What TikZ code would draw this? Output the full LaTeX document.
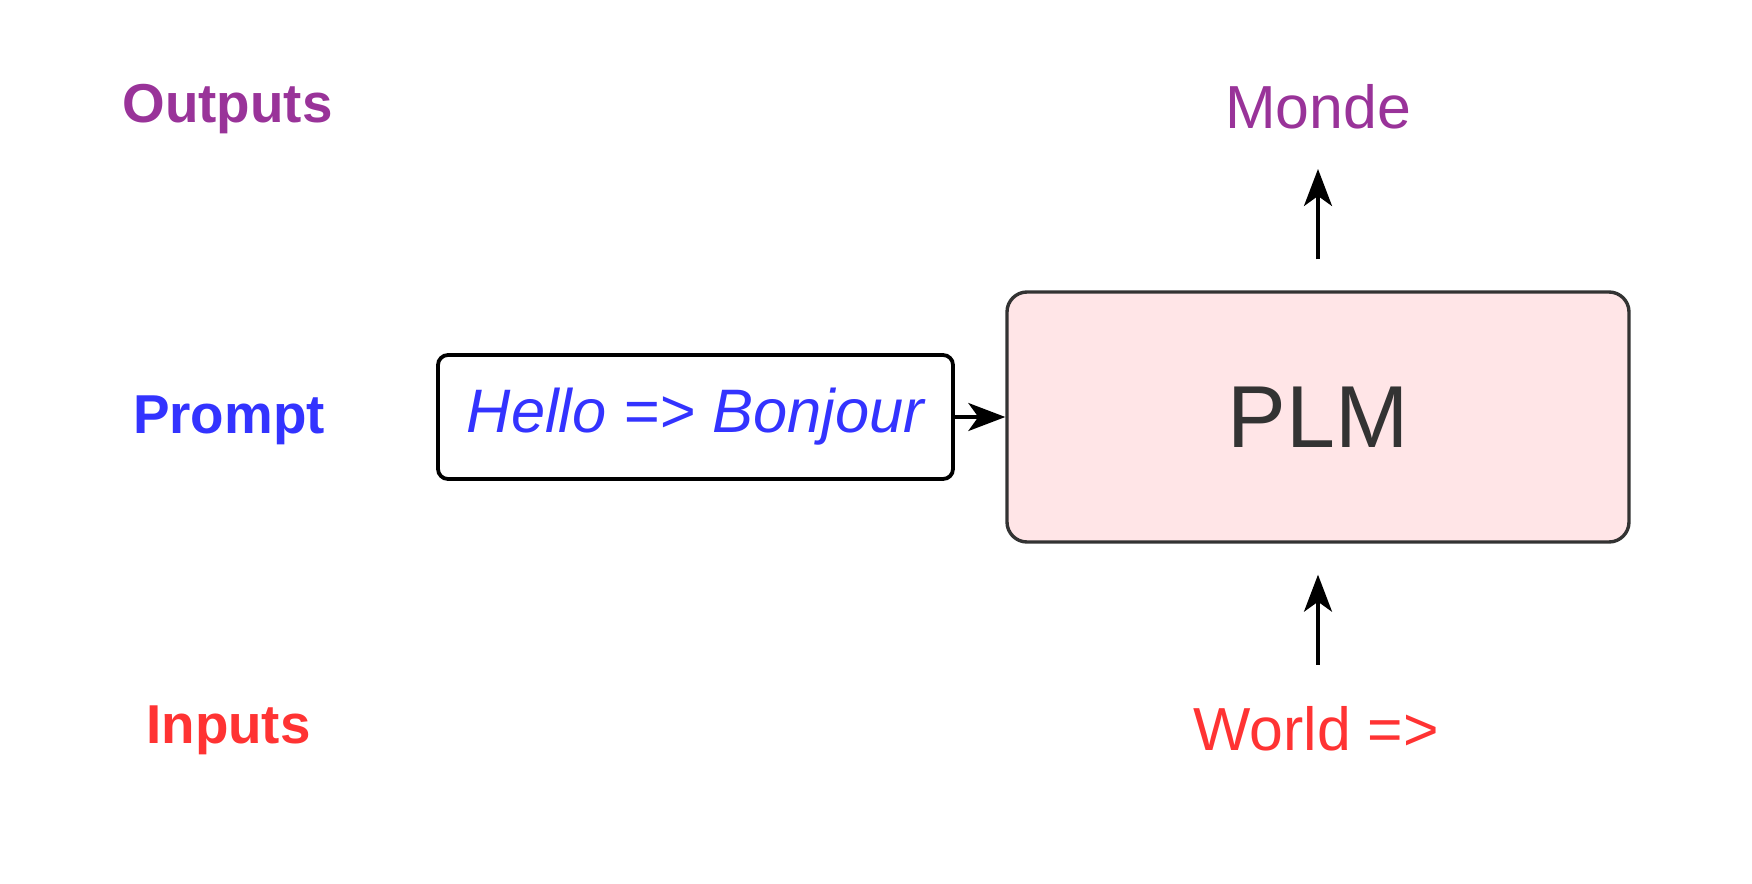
\documentclass[tikz,border=0pt]{standalone}
\usepackage{fontspec}
\setmainfont{Liberation Sans}
\usetikzlibrary{arrows.meta}
\definecolor{cpurple}{HTML}{993399}
\definecolor{cblue}{HTML}{3333FF}
\definecolor{cred}{HTML}{FF3333}
\definecolor{plmfill}{HTML}{FFE5E7}
\definecolor{plmline}{HTML}{333333}
\tikzset{
  rowlabel/.style={anchor=base, inner sep=0pt, font=\fontsize{27.4}{32}\selectfont\bfseries},
  plain/.style={anchor=base, inner sep=0pt, font=\fontsize{30.4}{36}\selectfont},
  promptbox/.style={draw=black, line width=1.9pt, rounded corners=5pt, minimum width=257.5pt, minimum height=62pt, inner sep=0pt, text=cblue, font=\fontsize{30.7}{36}\selectfont\itshape},
  plmbox/.style={draw=plmline, fill=plmfill, line width=1.7pt, rounded corners=10pt, minimum width=311pt, minimum height=125pt, inner sep=0pt, text=plmline, font=\fontsize{44}{52}\selectfont},
  arr/.style={line width=1.7pt, -{Stealth[length=18.5pt, width=14pt, inset=5pt]}}
}
\begin{document}
\begin{tikzpicture}[x=0.5pt, y=-0.5pt]
\useasboundingbox (0,0) rectangle (1752,884);
\node[rowlabel, text=cpurple] (outputs) at (227.5,122) {Outputs};
\node[rowlabel, text=cblue] (prompt) at (229,433) {Prompt};
\node[rowlabel, text=cred] (inputs) at (228.5,743) {Inputs};
\node[promptbox] (pbox) at (695.5,417) {Hello => Bonjour};
\node[plmbox] (plm) at (1318,417) {PLM};
\node[plain, text=cpurple] (monde) at (1318,128) {Monde};
\node[plain, text=cred] (world) at (1316,750) {World =>};
\draw[arr] (pbox.east) -- (plm.west);
\draw[arr, shorten <=15.5pt, shorten >=20pt] (plm.north) -- (plm.north |- monde.south);
\draw[arr, shorten <=20.5pt, shorten >=15.5pt] (plm.south |- world.north) -- (plm.south);
\end{tikzpicture}
\end{document}
